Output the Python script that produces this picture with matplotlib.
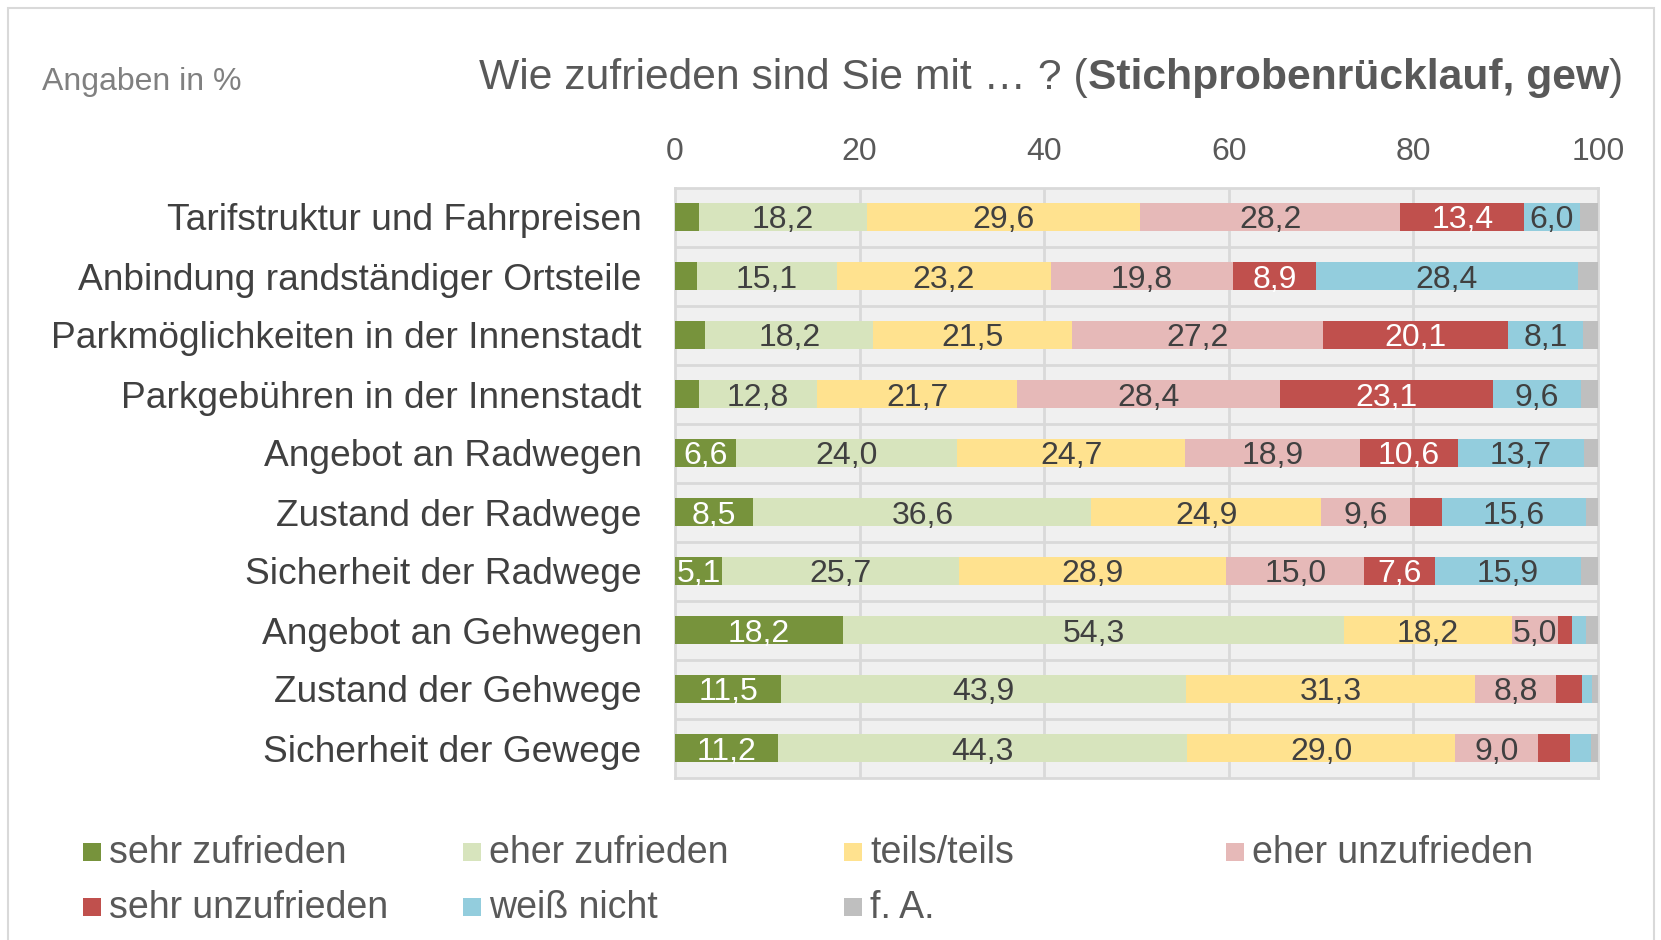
import matplotlib
matplotlib.use("Agg")
import matplotlib.pyplot as plt
import numpy as np
from matplotlib.patches import Rectangle

plt.rcParams['font.family'] = ['Liberation Sans', 'DejaVu Sans']

categories = [
    "Tarifstruktur und Fahrpreisen",
    "Anbindung randständiger Ortsteile",
    "Parkmöglichkeiten in der Innenstadt",
    "Parkgebühren in der Innenstadt",
    "Angebot an Radwegen",
    "Zustand der Radwege",
    "Sicherheit der Radwege",
    "Angebot an Gehwegen",
    "Zustand der Gehwege",
    "Sicherheit der Gewege",
]
series_names = ["sehr zufrieden", "eher zufrieden", "teils/teils", "eher unzufrieden",
                "sehr unzufrieden", "weiß nicht", "f. A."]
sehr_zufrieden   = [2.6, 2.4, 3.3, 2.6, 6.6, 8.5, 5.1, 18.2, 11.5, 11.2]
eher_zufrieden   = [18.2, 15.1, 18.2, 12.8, 24.0, 36.6, 25.7, 54.3, 43.9, 44.3]
teils_teils      = [29.6, 23.2, 21.5, 21.7, 24.7, 24.9, 28.9, 18.2, 31.3, 29.0]
eher_unzufrieden = [28.2, 19.8, 27.2, 28.4, 18.9, 9.6, 15.0, 5.0, 8.8, 9.0]
sehr_unzufrieden = [13.4, 8.9, 20.1, 23.1, 10.6, 3.5, 7.6, 1.5, 2.8, 3.5]
weiss_nicht      = [6.0, 28.4, 8.1, 9.6, 13.7, 15.6, 15.9, 1.5, 1.1, 2.2]
f_a              = [2.0, 2.2, 1.6, 1.8, 1.5, 1.3, 1.9, 1.3, 0.6, 0.8]
x_ticks = [0, 20, 40, 60, 80, 100]

series = [sehr_zufrieden, eher_zufrieden, teils_teils, eher_unzufrieden,
          sehr_unzufrieden, weiss_nicht, f_a]
colors = ["#77933C", "#D7E4BD", "#FFE28F", "#E6B9B8", "#C0504D", "#93CDDD", "#BFBFBF"]
label_colors = ["white", "#404040", "#404040", "#404040", "white", "#404040", "#404040"]

W, H = 1661, 940
fig = plt.figure(figsize=(W / 100, H / 100), dpi=100)
fig.patch.set_facecolor("white")

def fx(px):
    return px / W

def fy(py):
    return 1 - py / H

# outer border
fig.patches.append(Rectangle((fx(8), fy(960)), fx(1654) - fx(8), fy(8) - fy(960),
                             transform=fig.transFigure, fill=False,
                             edgecolor="#D9D9D9", linewidth=1.5))

ax = fig.add_axes([fx(675), fy(777.5), fx(1598) - fx(675), fy(187.5) - fy(777.5)])
ax.set_facecolor("#F0F0F0")

y = np.arange(len(categories))
left = np.zeros(len(categories))
for vals, col, lcol in zip(series, colors, label_colors):
    vals = np.array(vals)
    ax.barh(y, vals, left=left, height=0.48, color=col, edgecolor="none", zorder=3)
    for yi, (l, v) in enumerate(zip(left, vals)):
        if v >= 4:
            ax.text(l + v / 2, yi, f"{v:.1f}".replace(".", ","), ha="center",
                    va="center_baseline", fontsize=23, color=lcol, zorder=4)
    left += vals

ax.set_xlim(0, 100)
ax.set_ylim(len(categories) - 0.5, -0.5)
ax.set_xticks(x_ticks)
ax.xaxis.tick_top()
ax.set_xticklabels([str(t) for t in x_ticks], fontsize=23, color="#595959")
ax.set_yticks(y)
ax.set_yticklabels(categories, fontsize=26.7, color="#404040")
ax.tick_params(axis="both", length=0)
ax.tick_params(axis="x", pad=15)
ax.tick_params(axis="y", pad=24)
for xv in x_ticks[1:-1]:
    ax.axvline(xv, color="#D9D9D9", linewidth=2, zorder=1)
for yb in np.arange(len(categories) - 1) + 0.5:
    ax.axhline(yb, color="#D9D9D9", linewidth=2, zorder=1)
for s in ax.spines.values():
    s.set_color("#D9D9D9")
    s.set_linewidth(2)

# texts
fig.text(fx(42), fy(82), "Angaben in %", fontsize=23, color="#808080", va="center", ha="left")

renderer = fig.canvas.get_renderer()
x0 = 479
base = fy(89)
parts = [("Wie zufrieden sind Sie mit … ? (", "normal"),
         ("Stichprobenrücklauf, gew", "bold"),
         (")", "normal")]
cur = x0
for txt, wt in parts:
    t = fig.text(fx(cur), base, txt, fontsize=30.7, fontweight=wt, color="#595959",
                 va="baseline", ha="left")
    bb = t.get_window_extent(renderer)
    cur += bb.width

# legend
leg_pos = [(83, 853), (463, 853), (844, 853), (1226, 853),
           (83, 908), (463, 908), (844, 908)]
for (lx, ly), name, col in zip(leg_pos, series_names, colors):
    fig.patches.append(Rectangle((fx(lx), fy(ly + 8)), fx(18), 18 / H,
                                 transform=fig.transFigure, facecolor=col, edgecolor="none"))
    fig.text(fx(lx + 26), fy(ly), name, fontsize=27, color="#595959", va="center", ha="left")

fig.savefig("out.png", dpi=100)
